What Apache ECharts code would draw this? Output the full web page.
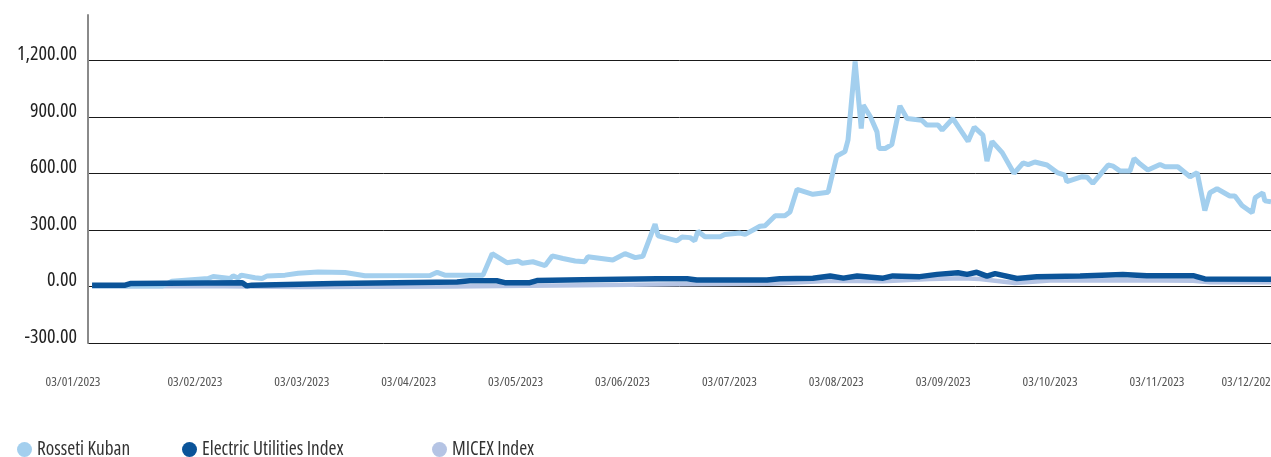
<!DOCTYPE html>
<html>
<head>
<meta charset="utf-8">
<script src="https://cdn.jsdelivr.net/npm/echarts@6/dist/echarts.min.js"></script>
<style>
html,body{margin:0;padding:0;background:#fff;}
#chart{width:1271px;height:457px;}
</style>
</head>
<body>
<div id="chart"></div>
<script>
// x = trading-day index (21 per month), y = value
const tickLabels = ['03/01/2023','03/02/2023','03/03/2023','03/04/2023','03/05/2023','03/06/2023','03/07/2023','03/08/2023','03/09/2023','03/10/2023','03/11/2023','03/12/2023'];
const daysPerLabel = 21;

const rossetiKuban = [[0.8,3],[14.7,3],[16.5,28],[23.6,42],[24.6,53],[27.9,42],[28.5,56],[29.5,45],[30.1,60],[32.8,46],[34.2,42],[35.2,56],[38.7,60],[41.3,70],[45.2,77],[50.5,74],[54.4,57],[67.2,58],[68.6,75],[70.1,60],[77.6,60],[79.4,174],[82.3,126],[84.5,135],[85.3,123],[87.4,131],[89.8,111],[91.2,162],[93.3,148],[95.7,135],[97.6,131],[98.2,157],[103.1,140],[105.5,174],[107.5,153],[109.0,160],[111.4,331],[112.0,268],[115.7,242],[116.7,262],[118.3,259],[119.2,242],[119.8,293],[121.2,264],[124.2,264],[125.1,276],[128.1,283],[129.1,276],[132.0,319],[133.0,322],[135.0,375],[136.9,375],[137.9,395],[139.3,515],[142.4,489],[145.4,500],[147.1,692],[148.7,715],[149.3,776],[150.7,1193],[151.9,838],[152.3,962],[153.7,900],[155.0,820],[155.4,732],[156.6,732],[157.9,752],[159.5,958],[160.9,891],[163.8,882],[164.8,856],[167.0,856],[167.8,829],[169.9,891],[172.9,770],[174.1,845],[175.8,803],[176.6,665],[177.6,770],[179.6,710],[181.9,600],[183.7,655],[184.7,646],[186.0,660],[188.4,644],[190.4,604],[191.9,591],[192.3,556],[195.3,582],[196.3,579],[197.4,547],[200.4,644],[201.4,638],[202.7,613],[204.7,613],[205.5,679],[206.7,649],[208.2,618],[210.6,647],[211.6,635],[214.1,635],[216.5,582],[217.9,604],[219.4,403],[220.4,497],[221.8,518],[224.3,480],[225.3,480],[226.7,429],[228.7,391],[229.3,471],[230.8,497],[231.2,454],[232.4,449]];

const electricUtilities = [[0.8,7],[7.3,7],[8.3,15],[30.3,20],[31.2,3],[32.2,7],[48.5,15],[72.5,24],[75.0,30],[80.3,30],[81.9,20],[86.8,20],[88.2,31],[97.2,35],[111.8,41],[117.7,41],[119.6,34],[133.4,34],[135.9,41],[142.4,44],[145.8,55],[148.4,44],[151.1,55],[156.2,44],[158.1,56],[163.4,52],[166.8,64],[170.9,73],[172.7,64],[174.6,75],[176.6,55],[178.2,68],[182.5,42],[186.4,52],[194.9,55],[203.3,63],[208.0,57],[217.1,57],[219.4,40],[232.4,38]];

const micex = [[0.8,0],[22.0,2],[41.6,-3],[71.1,0],[96.7,7],[116.3,12],[134.0,14],[145.8,30],[156.2,28],[165.4,40],[171.9,44],[175.2,40],[182.1,18],[189.0,32],[204.7,33],[217.1,30],[220.4,22],[232.4,22]];

const seriesNames = ['Rosseti Kuban','Electric Utilities Index','MICEX Index'];
const colors = ['#a3cfee','#0b5499','#b5c4e4'];

// ---- pick the most condensed installed font, sized to the reference text widths
const ctx = document.createElement('canvas').getContext('2d');
const candidates = [
  {fam:"'Noto Sans'", st:'extra-condensed'},
  {fam:"'Noto Sans'", st:'condensed'},
  {fam:"'Open Sans'", st:'condensed'},
  {fam:"'Liberation Sans Narrow'", st:''},
  {fam:"'DejaVu Sans Condensed'", st:''}
];
const WEIGHT = '500';
function fwStr(c){ return (c.st ? c.st + ' ' : '') + WEIGHT; }
function fontStr(c, size){ return fwStr(c) + ' ' + size + 'px ' + c.fam; }
function widthOf(c, size, text){
  ctx.font = '10px monospace';
  ctx.font = fontStr(c, size);
  if (ctx.font.indexOf('monospace') >= 0) return Infinity;
  return ctx.measureText(text).width;
}
let best = candidates[candidates.length-1], bestRatio = Infinity;
candidates.forEach(c => {
  const r = widthOf(c, 100, '1,200.00 03/01/2023') / 100;
  if (r < bestRatio - 0.01) { bestRatio = r; best = c; }
});
function sizeFor(text, targetW){ return targetW / (widthOf(best, 100, text) / 100); }
const FAM = best.fam;
const FW = fwStr(best);
const ySize = sizeFor('1,200.00', 60);
const xSize = sizeFor('03/01/2023', 55);
const legSize = sizeFor('Rosseti KubanElectric Utilities IndexMICEX Index', 95+142+80);

const chart = echarts.init(document.getElementById('chart'), null, {renderer:'canvas'});
const legendLefts = [17, 182, 432];

chart.setOption({
  animation:false,
  grid:{left:88, top:15, bottom:114, right:0, containLabel:false, outerBoundsMode:'none'},
  legend: seriesNames.map((n,i)=>({
    data:[{name:n, icon:'circle'}],
    left:legendLefts[i], top:440, padding:0,
    itemWidth:15, itemHeight:15, itemGap:5,
    textStyle:{fontFamily:FAM, fontWeight:FW, fontSize:legSize, color:'#333'}
  })),
  xAxis:{
    type:'value', min:0, max:232.4, interval:daysPerLabel,
    axisLine:{show:false}, axisTick:{show:false},
    splitLine:{show:false},
    axisLabel:{
      margin:33, fontFamily:FAM, fontWeight:FW, fontSize:xSize, color:'#555',
      showMaxLabel:true, showMinLabel:true, hideOverlap:false,
      formatter:(v)=>{
        const k = Math.round(v/daysPerLabel);
        if (Math.abs(v - k*daysPerLabel) > 1e-6 || k >= tickLabels.length) return '';
        if (k === 0 || k === tickLabels.length-1) return '{s|'+tickLabels[k]+'}';
        return tickLabels[k];
      },
      rich:{
        s:{padding:[0,30,0,0], fontFamily:FAM, fontWeight:FW, fontSize:xSize, color:'#555'}
      }
    }
  },
  yAxis:{
    type:'value', min:-300, max:1440, interval:300,
    axisLine:{show:true, lineStyle:{color:'#8a8a8a', width:2}},
    axisTick:{show:false},
    splitLine:{show:true, showMaxLine:false, lineStyle:{color:['#1a1a1a','#1a1a1a','#1a1a1a','#1a1a1a','#1a1a1a','#1a1a1a','rgba(0,0,0,0)'], width:1}},
    axisLabel:{
      margin:11, fontFamily:FAM, fontWeight:FW, fontSize:ySize, color:'#222',
      verticalAlign:'bottom', lineHeight:12,
      showMaxLabel:false,
      formatter:(v)=> v.toLocaleString('en-US',{minimumFractionDigits:2, maximumFractionDigits:2})
    }
  },
  series:[
    {name:seriesNames[0], type:'line', data:rossetiKuban, showSymbol:false, symbol:'none', z:3,
     lineStyle:{color:colors[0], width:5}, itemStyle:{color:colors[0]}},
    {name:seriesNames[1], type:'line', data:electricUtilities, showSymbol:false, symbol:'none', z:4,
     lineStyle:{color:colors[1], width:5.5}, itemStyle:{color:colors[1]}},
    {name:seriesNames[2], type:'line', data:micex, showSymbol:false, symbol:'none', z:2,
     lineStyle:{color:colors[2], width:4.5}, itemStyle:{color:colors[2]}}
  ]
});
</script>
</body>
</html>
